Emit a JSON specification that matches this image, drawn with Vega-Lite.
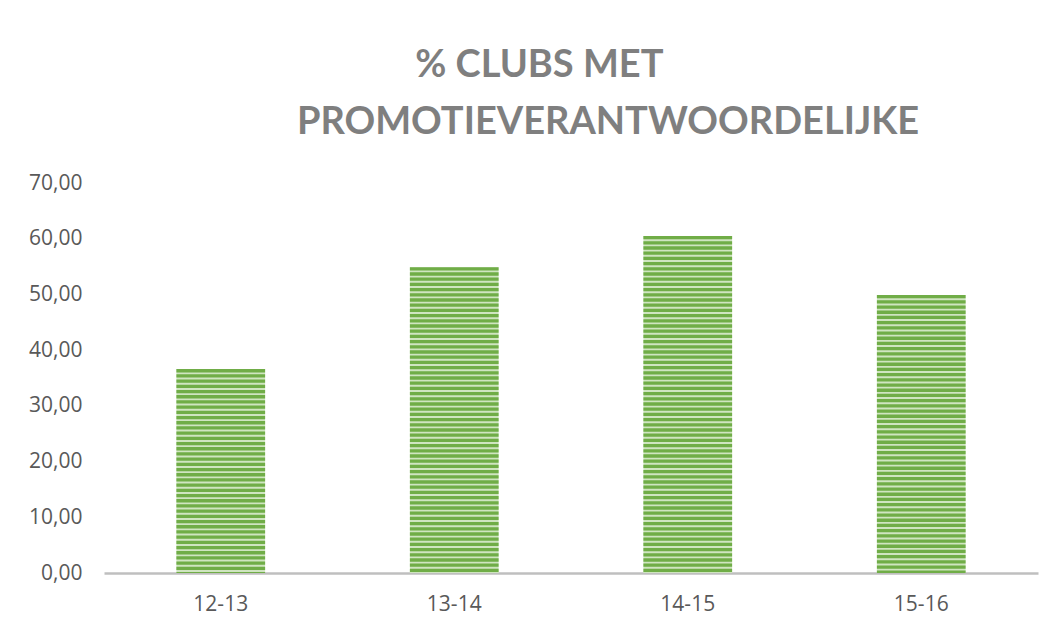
{
  "$schema": "https://vega.github.io/schema/vega-lite/v6.json",
  "autosize": {"type": "none"},
  "width": 934,
  "height": 390,
  "padding": {"left": 104, "top": 183, "right": 14, "bottom": 56},
  "background": "white",
  "config": {"view": {"stroke": null}},
  "title": {
    "text": ["% CLUBS MET\u00a0\u00a0\u00a0\u00a0\u00a0\u00a0\u00a0\u00a0\u00a0\u00a0\u00a0\u00a0\u00a0\u00a0\u00a0\u200b", "PROMOTIEVERANTWOORDELIJKE"],
    "anchor": "middle",
    "frame": "group",
    "dx": 37,
    "offset": 30,
    "font": "Lato",
    "fontSize": 38,
    "fontWeight": "bold",
    "color": "#7f7f7f",
    "lineHeight": 57
  },
  "data": {
    "values": [
      {"season": "12-13", "pct": 36.6},
      {"season": "13-14", "pct": 54.9},
      {"season": "14-15", "pct": 60.5},
      {"season": "15-16", "pct": 49.9}
    ]
  },
  "encoding": {
    "x": {
      "field": "season",
      "type": "nominal",
      "sort": ["12-13", "13-14", "14-15", "15-16"],
      "scale": {"paddingInner": 0.62, "paddingOuter": 0.31},
      "axis": {
        "title": null,
        "labelAngle": 0,
        "ticks": false,
        "domainColor": "#bfbfbf",
        "domainWidth": 2.5,
        "labelFont": "Open Sans",
        "labelFontSize": 21,
        "labelColor": "#595959",
        "labelPadding": 20
      }
    },
    "y": {
      "field": "pct",
      "type": "quantitative",
      "scale": {"domain": [0, 70], "nice": false},
      "axis": {
        "title": null,
        "domain": false,
        "ticks": false,
        "grid": false,
        "values": [0, 10, 20, 30, 40, 50, 60, 70],
        "labelExpr": "replace(format(datum.value, '.2f'), '.', ',')",
        "labelFont": "Open Sans",
        "labelFontSize": 21,
        "labelColor": "#595959",
        "labelPadding": 22
      }
    }
  },
  "layer": [
    {"mark": {"type": "bar", "fill": "#cfe5c0"}},
    {
      "mark": {"type": "rule", "stroke": "#70ad47", "strokeWidth": 88.7, "strokeDash": [3.3, 1.9], "strokeCap": "butt"},
      "encoding": {"y2": {"datum": 0}}
    }
  ]
}
